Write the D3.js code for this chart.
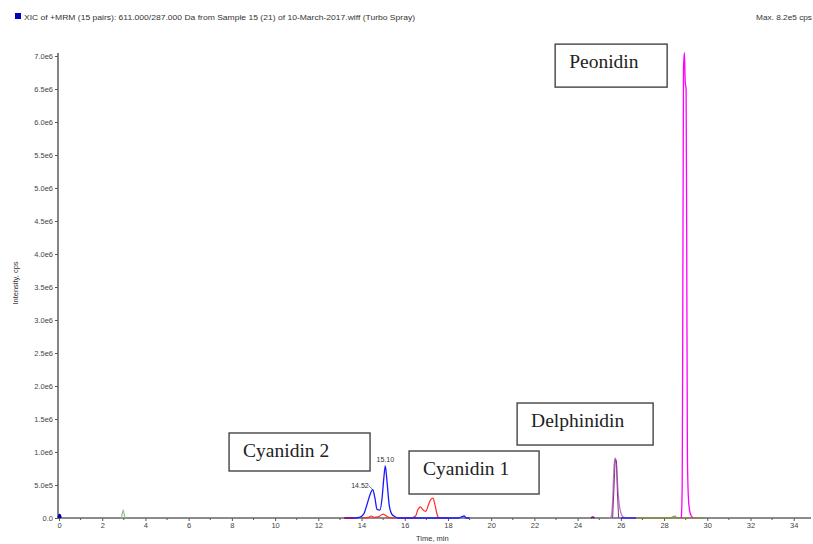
<!DOCTYPE html>
<html lang="en">
<head>
    <meta charset="UTF-8">
    <title>XIC of +MRM</title>
    <script src="https://cdn.jsdelivr.net/npm/d3@7"></script>
    <style>
        body { margin: 0; background: #fff; }
        svg { display: block; }
        .tick text { font-family: Arial, "Liberation Sans", sans-serif; font-size: 7.5px; fill: #444; }
        .small { font-family: Arial, "Liberation Sans", sans-serif; font-size: 7.5px; fill: #333; }
        .name { font-family: "Liberation Serif", "Times New Roman", serif; font-size: 19.5px; fill: #222; }
    </style>
</head>
<body>
<svg id="chart" width="813" height="544"></svg>
<script>
    // header strings
    const titleText = "XIC of +MRM (15 pairs): 611.000/287.000 Da  from Sample 15 (21) of 10-March-2017.wiff (Turbo Spray)";
    const maxText = "Max. 8.2e5 cps";

    // axis ticks
    const xTicks = [0, 2, 4, 6, 8, 10, 12, 14, 16, 18, 20, 22, 24, 26, 28, 30, 32, 34];
    const xMinorTicks = [1, 3, 5, 7, 9, 11, 13, 15, 17, 19, 21, 23, 25, 27, 29, 31, 33];
    const yTicks = [0, 0.5e6, 1.0e6, 1.5e6, 2.0e6, 2.5e6, 3.0e6, 3.5e6, 4.0e6, 4.5e6, 5.0e6, 5.5e6, 6.0e6, 6.5e6, 7.0e6];
    const yTickLabels = ["0.0", "5.0e5", "1.0e6", "1.5e6", "2.0e6", "2.5e6", "3.0e6", "3.5e6", "4.0e6", "4.5e6", "5.0e6", "5.5e6", "6.0e6", "6.5e6", "7.0e6"];

    // traces (time in min, intensity in cps)
    const navyTime = [0, 0.03, 0.06];
    const navyInt = [0, 40000, 0];
    const greenTime = [2.88, 2.94, 2.97, 3.0, 3.06];
    const greenInt = [0, 80000, 125000, 80000, 0];
    const darkPurpleTime = [13.2, 13.45, 13.65];
    const darkPurpleInt = [0, 0, 0];
    const blueTime = [13.65, 13.9, 14.1, 14.25, 14.4, 14.52, 14.62, 14.72, 14.85, 14.95, 15.03, 15.10, 15.18, 15.28, 15.4, 15.55, 15.7, 16.5, 18.5, 18.65, 18.75, 18.85, 19.0];
    const blueInt = [0, 10000, 60000, 200000, 360000, 430000, 300000, 130000, 120000, 300000, 600000, 790000, 550000, 200000, 60000, 20000, 0, 0, 0, 20000, 30000, 0, 0];
    const redTime = [14.0, 14.3, 14.45, 14.6, 14.8, 15.0, 15.1, 15.25, 15.5, 16.3, 16.5, 16.6, 16.72, 16.85, 16.97, 17.1, 17.2, 17.3, 17.4, 17.5, 17.6, 18.0];
    const redInt = [0, 10000, 30000, 10000, 20000, 60000, 40000, 10000, 0, 0, 30000, 120000, 170000, 120000, 100000, 200000, 280000, 300000, 200000, 50000, 0, 0];
    const purpleDotTime = [24.62, 24.7, 24.78];
    const purpleDotInt = [0, 15000, 0];
    const delphTime = [25.45, 25.55, 25.62, 25.68, 25.74, 25.8, 25.86, 25.92, 26.0, 26.1, 26.25, 26.4];
    const delphInt = [0, 20000, 250000, 750000, 910000, 800000, 450000, 220000, 80000, 20000, 5000, 0];
    const delphCoreTime = [25.62, 25.69, 25.75, 25.79, 25.84, 25.9];
    const delphCoreInt = [0, 500000, 890000, 870000, 400000, 0];
    const blue2Time = [26.0, 26.7];
    const blue2Int = [0, 0];
    const oliveTime = [26.7, 28.3, 28.42, 28.5, 28.6, 29.8];
    const oliveInt = [0, 0, 20000, 30000, 0, 0];
    const peonTime = [28.8, 28.84, 28.87, 28.9, 28.94, 28.98, 29.02, 29.05, 29.08, 29.12, 29.18, 29.26, 29.36];
    const peonInt = [0, 500000, 3500000, 6800000, 7050000, 6600000, 6500000, 4000000, 1000000, 350000, 120000, 30000, 0];

    // peak labels
    const peakLabels = ["14.52", "15.10"];
    const peakLabelTime = [14.52, 15.10];
    const peakLabelInt = [430000, 790000];

    // compound names
    const compoundNames = ["Peonidin", "Delphinidin", "Cyanidin 2", "Cyanidin 1"];

    const svg = d3.select("#chart");
    const x = d3.scaleLinear().domain([0, 34.8]).range([59, 811]);
    const y = d3.scaleLinear().domain([0, 7.0e6]).range([518, 56]);

    // header
    svg.append("rect").attr("x", 15).attr("y", 13).attr("width", 6).attr("height", 6).attr("fill", "#0000c0");
    svg.append("text").attr("class", "small").attr("x", 24).attr("y", 19.5)
        .attr("textLength", 391).attr("lengthAdjust", "spacingAndGlyphs").text(titleText);
    svg.append("text").attr("class", "small").attr("x", 756).attr("y", 19.5)
        .attr("textLength", 56).attr("lengthAdjust", "spacingAndGlyphs").text(maxText);

    // axes
    const yAxis = d3.axisLeft(y).tickValues(yTicks).tickSize(3).tickPadding(2)
        .tickFormat((d, i) => yTickLabels[i]);
    const gy = svg.append("g").attr("transform", "translate(58,0)").call(yAxis);
    gy.select(".domain").remove();
    gy.selectAll("line").attr("stroke", "#555");
    svg.append("line").attr("x1", 58).attr("x2", 58).attr("y1", 53).attr("y2", 519)
        .attr("stroke", "#666").attr("stroke-width", 1.6);

    const xAxis = d3.axisBottom(x).tickValues(xTicks).tickSize(3).tickPadding(2).tickFormat(d3.format("d"));
    const gx = svg.append("g").attr("transform", "translate(0,518)").call(xAxis);
    gx.select(".domain").remove();
    gx.selectAll("line").attr("stroke", "#555");
    svg.append("g").selectAll("line").data(xMinorTicks).join("line")
        .attr("x1", d => x(d)).attr("x2", d => x(d)).attr("y1", 518).attr("y2", 520)
        .attr("stroke", "#555");
    svg.append("line").attr("x1", 58).attr("x2", 811).attr("y1", 518).attr("y2", 518)
        .attr("stroke", "#666").attr("stroke-width", 1.6);

    svg.append("text").attr("class", "small").attr("x", 416).attr("y", 540.5).text("Time, min");
    svg.append("text").attr("class", "small")
        .attr("transform", "translate(18,283) rotate(-90)").attr("text-anchor", "middle").text("Intensity, cps");

    // traces
    const line = d3.line().x(d => x(d[0])).y(d => y(d[1])).curve(d3.curveMonotoneX);
    const traces = [
        [greenTime, greenInt, "#8cc88c", 1.2],
        [darkPurpleTime, darkPurpleInt, "#800080", 1.6],
        [redTime, redInt, "#ff2a2a", 1.2],
        [blueTime, blueInt, "#1a1aff", 1.3],
        [purpleDotTime, purpleDotInt, "#800080", 1.6],
        [delphTime, delphInt, "#b77fc8", 1.3],
        [delphCoreTime, delphCoreInt, "#8a2a8a", 1.0],
        [blue2Time, blue2Int, "#1a1aff", 1.3],
        [oliveTime, oliveInt, "#8a8a20", 1.2],
        [peonTime, peonInt, "#ff00ff", 1.3],
        [navyTime, navyInt, "#0000a0", 3]
    ];
    traces.forEach(([t, v, color, w]) => {
        svg.append("path").datum(t.map((d, i) => [d, v[i]]))
            .attr("d", line).attr("fill", "none").attr("stroke", color).attr("stroke-width", w);
    });

    // peak labels with leader
    const lab = svg.append("g");
    lab.append("text").attr("class", "small").attr("text-anchor", "end")
        .attr("x", x(peakLabelTime[0]) - 4).attr("y", y(peakLabelInt[0]) - 2)
        .style("font-size", "7px").text(peakLabels[0]);
    lab.append("line").attr("x1", x(peakLabelTime[0]) - 4).attr("y1", y(peakLabelInt[0]) - 4)
        .attr("x2", x(peakLabelTime[0])).attr("y2", y(peakLabelInt[0])).attr("stroke", "#333").attr("stroke-width", 0.7);
    lab.append("text").attr("class", "small").attr("text-anchor", "middle")
        .attr("x", x(peakLabelTime[1])).attr("y", y(peakLabelInt[1]) - 4)
        .style("font-size", "7px").text(peakLabels[1]);

    // compound boxes (top-left anchored in data units)
    const boxLayout = [
        { t: 22.96, v: 7.18e6, w: 112, h: 43 },
        { t: 21.20, v: 1.742e6, w: 136, h: 42 },
        { t: 7.87, v: 1.288e6, w: 141, h: 38 },
        { t: 16.20, v: 1.015e6, w: 130, h: 43 }
    ];
    compoundNames.forEach((name, i) => {
        const b = boxLayout[i];
        const g = svg.append("g").attr("transform", `translate(${x(b.t)},${y(b.v)})`);
        g.append("rect").attr("width", b.w).attr("height", b.h)
            .attr("fill", "#fff").attr("stroke", "#444").attr("stroke-width", 1.4);
        g.append("text").attr("class", "name").attr("x", 14).attr("y", 24).text(name);
    });
</script>
</body>
</html>
